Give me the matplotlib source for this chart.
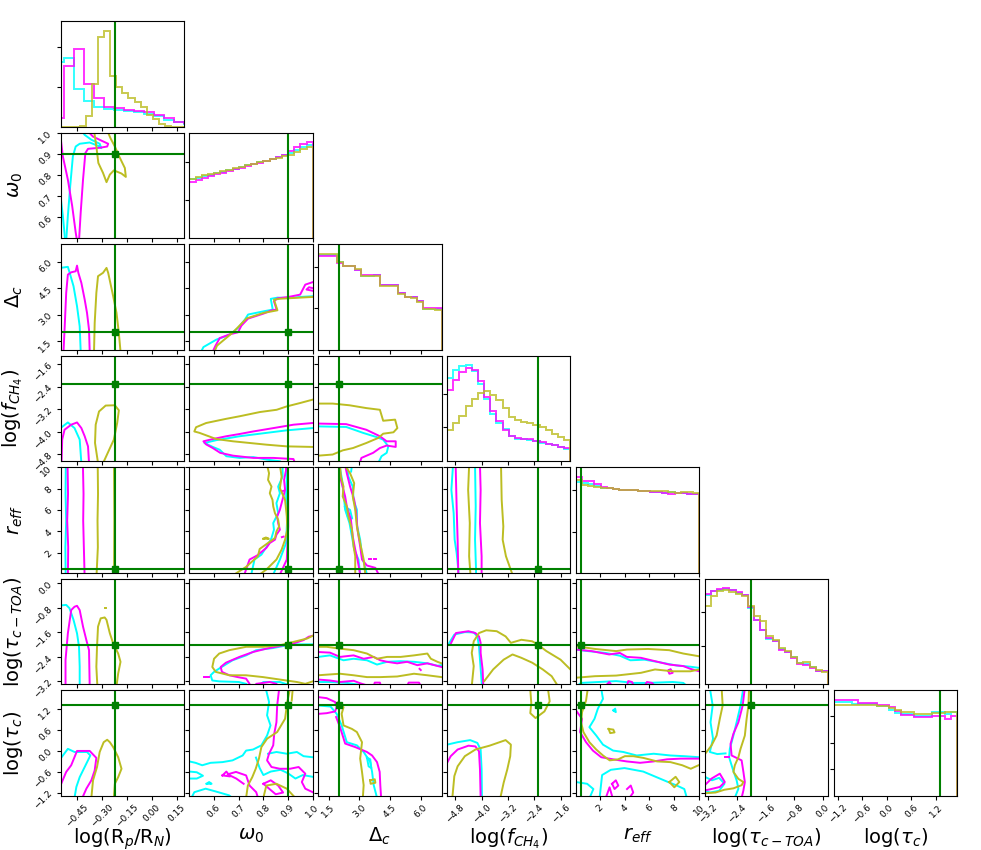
import numpy as np
import matplotlib
matplotlib.use("Agg")
import matplotlib.pyplot as plt

# parameters: label, range, ticks, true value
labels = [r"log(R$_p$/R$_N$)", r"$\omega_0$", r"$\Delta_c$", r"log($f_{CH_4}$)",
          r"$r_{eff}$", r"log($\tau_{c-TOA}$)", r"log($\tau_c$)"]
lims = [(-0.55, 0.19), (0.5, 1.0), (1.0, 7.0), (-5.05, -1.3),
        (0.1, 10.0), (-3.3, 0.15), (-1.3, 1.72)]
ticks = [[-0.45, -0.30, -0.15, 0.00, 0.15],
         [0.6, 0.7, 0.8, 0.9, 1.0],
         [1.5, 3.0, 4.5, 6.0],
         [-4.8, -4.0, -3.2, -2.4, -1.6],
         [2, 4, 6, 8, 10],
         [-3.2, -2.4, -1.6, -0.8, 0.0],
         [-1.2, -0.6, 0.0, 0.6, 1.2]]
truths = [-0.225, 0.9, 2.0, -2.3, 0.5, -2.0, 1.3]

colors = {"c": "#00ffff", "m": "#ff00ff", "o": "#bcbd22"}

# ---- 1D marginals (heights per bin) ----
rp_edges_mc = [-0.59, -0.53, -0.47, -0.41, -0.35, -0.29, -0.23, -0.17, -0.11, -0.05,
               0.01, 0.07, 0.13, 0.19, 0.25]
rp_m = [0.22, 1.51, 1.94, 1.075, 0.71, 0.49, 0.46, 0.425, 0.40, 0.36, 0.30, 0.22, 0.125, 0.09]
rp_c = [1.61, 1.72, 0.94, 0.65, 0.49, 0.45, 0.41, 0.38, 0.36, 0.31, 0.26, 0.175, 0.11, 0.075]
rp_edges_o = [-0.55, -0.436, -0.40, -0.363, -0.326, -0.29, -0.253, -0.216, -0.18, -0.143,
              -0.106, -0.07, -0.033, 0.004, 0.04, 0.077, 0.114, 0.15, 0.19]
rp_o = [0.0, 0.02, 0.275, 1.075, 2.24, 2.41, 1.26, 0.99, 0.84, 0.72, 0.62, 0.49, 0.30,
        0.19, 0.075, 0.025, 0.0, 0.0]

w0_m = [1.48, 1.54, 1.59, 1.64, 1.69, 1.73, 1.77, 1.82, 1.86, 1.90, 1.95, 1.99, 2.04,
        2.09, 2.15, 2.21, 2.30, 2.40, 2.48, 2.55]
w0_c = [1.55, 1.60, 1.64, 1.68, 1.72, 1.76, 1.80, 1.84, 1.88, 1.92, 1.96, 2.00, 2.05,
        2.10, 2.15, 2.20, 2.26, 2.33, 2.40, 2.47]
w0_o = [1.57, 1.62, 1.66, 1.70, 1.73, 1.77, 1.81, 1.85, 1.89, 1.92, 1.96, 2.00, 2.04,
        2.08, 2.12, 2.16, 2.21, 2.28, 2.35, 2.42]

dc_m = [2.28, 2.28, 2.28, 2.10, 2.03, 2.03, 1.94, 1.80, 1.80, 1.80, 1.58, 1.58, 1.58,
        1.37, 1.28, 1.28, 1.18, 1.00, 1.00, 1.00]
dc_c = [2.29, 2.29, 2.29, 2.12, 2.04, 2.04, 1.93, 1.78, 1.78, 1.80, 1.56, 1.56, 1.56,
        1.38, 1.28, 1.28, 1.19, 0.99, 0.99, 0.98]
dc_o = [2.32, 2.33, 2.31, 2.13, 2.03, 2.02, 1.95, 1.79, 1.79, 1.79, 1.54, 1.54, 1.55,
        1.36, 1.27, 1.26, 1.16, 0.98, 0.98, 0.97]

ch4_m = [2.10, 2.39, 2.64, 2.76, 2.69, 2.36, 1.90, 1.48, 1.19, 0.92, 0.76, 0.70, 0.67,
         0.65, 0.61, 0.57, 0.52, 0.47, 0.43, 0.39]
ch4_c = [2.46, 2.71, 2.82, 2.84, 2.66, 2.29, 1.84, 1.41, 1.12, 0.94, 0.74, 0.67, 0.65,
         0.63, 0.60, 0.55, 0.51, 0.47, 0.43, 0.35]
ch4_o = [0.92, 1.12, 1.35, 1.63, 1.84, 2.02, 2.07, 1.97, 1.80, 1.58, 1.31, 1.22, 1.16,
         1.12, 1.08, 1.02, 0.92, 0.82, 0.73, 0.63]

reff_m = [2.32, 2.23, 2.23, 2.15, 2.08, 2.05, 2.03, 2.02, 2.00, 2.00, 1.99, 1.98, 1.96,
          1.96, 1.93, 1.92, 1.94, 1.93, 1.92, 1.91]
reff_c = [2.20, 2.19, 2.16, 2.11, 2.07, 2.05, 2.03, 2.02, 2.01, 2.00, 1.99, 1.98, 1.97,
          1.96, 1.94, 1.95, 1.93, 1.93, 1.92, 1.92]
reff_o = [2.26, 2.12, 2.10, 2.08, 2.06, 2.05, 2.04, 2.02, 2.01, 2.00, 1.99, 1.99, 1.98,
          1.99, 1.98, 1.96, 1.94, 1.96, 1.95, 1.93]

toa_m = [2.73, 2.83, 2.88, 2.90, 2.85, 2.77, 2.70, 2.33, 1.95, 1.65, 1.40, 1.30, 1.05,
         0.97, 0.80, 0.63, 0.60, 0.50, 0.40, 0.40]
toa_c = [2.70, 2.80, 2.86, 2.88, 2.84, 2.76, 2.69, 2.30, 1.93, 1.63, 1.38, 1.30, 1.06,
         0.98, 0.82, 0.65, 0.62, 0.52, 0.42, 0.41]
toa_o = [2.37, 2.65, 2.83, 2.85, 2.79, 2.73, 2.67, 2.37, 2.05, 1.90, 1.47, 1.35, 1.10,
         1.00, 0.83, 0.65, 0.67, 0.53, 0.43, 0.37]

tauc_m = [3.60, 3.60, 3.60, 3.60, 3.50, 3.50, 3.50, 3.44, 3.44, 3.35, 3.19, 3.06, 3.06,
          2.96, 2.96, 2.96, 3.00, 3.00, 2.90, 3.00]
tauc_c = [3.53, 3.53, 3.53, 3.45, 3.45, 3.45, 3.45, 3.38, 3.38, 3.25, 3.13, 3.10, 3.10,
          3.03, 3.03, 3.03, 3.15, 3.15, 3.10, 3.15]
tauc_o = [3.44, 3.44, 3.44, 3.44, 3.44, 3.44, 3.44, 3.40, 3.40, 3.31, 3.23, 3.15, 3.15,
          3.10, 3.10, 3.10, 3.13, 3.13, 3.15, 3.15]

diag_top = [2.65, 2.79, 2.56, 3.12, 2.56, 3.18, 3.975]
diag_yticks = [[1, 2], [1, 2], [1, 2], [1, 2], [1, 2], [1.17, 2.17], [1, 2, 3]]

# ---- 2D credible contours (traced outlines, data units) ----
c_w0_rp = {
    "c": [[(-0.55, 0.699), (-0.536, 0.605), (-0.522, 0.488)],
          [(-0.516, 0.488), (-0.506, 0.605), (-0.492, 0.746), (-0.476, 0.887), (-0.459, 0.934),
           (-0.435, 0.947), (-0.375, 0.953), (-0.315, 0.934), (-0.305, 0.926), (-0.315, 0.947),
           (-0.365, 0.966), (-0.405, 0.989), (-0.425, 1.01)]],
    "m": [[(-0.55, 0.98), (-0.536, 0.887), (-0.506, 0.777), (-0.48, 0.652), (-0.459, 0.527),
           (-0.451, 0.488), (-0.439, 0.488), (-0.429, 0.621), (-0.415, 0.777), (-0.401, 0.903),
           (-0.385, 0.923), (-0.315, 0.928), (-0.27, 0.934), (-0.264, 0.947), (-0.305, 0.962),
           (-0.355, 0.981), (-0.391, 1.01)]],
    "o": [[(-0.349, 1.01), (-0.335, 0.934), (-0.323, 0.856), (-0.295, 0.809), (-0.274, 0.765),
           (-0.254, 0.801), (-0.23, 0.821), (-0.184, 0.806), (-0.158, 0.79), (-0.164, 0.832),
           (-0.198, 0.887), (-0.224, 0.934), (-0.25, 0.973), (-0.27, 1.01)]],
}
c_dc_rp = {
    "c": [[(-0.55, 5.65), (-0.506, 5.71), (-0.496, 5.40), (-0.472, 4.61), (-0.451, 3.47),
           (-0.435, 2.33), (-0.429, 0.9)]],
    "m": [[(-0.532, 0.9), (-0.524, 2.52), (-0.516, 4.23), (-0.506, 5.27), (-0.486, 5.40),
           (-0.459, 5.46), (-0.451, 5.78), (-0.443, 5.37), (-0.425, 4.80), (-0.405, 3.85),
           (-0.391, 3.09), (-0.379, 2.14), (-0.375, 0.9)]],
    "o": [[(-0.349, 0.9), (-0.345, 2.52), (-0.335, 4.23), (-0.325, 5.18), (-0.295, 5.37),
           (-0.274, 5.65), (-0.264, 5.37), (-0.234, 4.04), (-0.214, 3.09), (-0.2, 1.95),
           (-0.19, 0.9)]],
}
c_dc_w0 = {
    "c": [[(0.548, 0.9), (0.557, 1.15), (0.609, 1.57), (0.663, 1.85), (0.697, 2.23), (0.725, 2.71),
           (0.738, 3.0), (0.800, 3.18), (0.838, 3.28), (0.830, 3.89), (0.857, 3.96), (0.909, 3.94),
           (0.949, 4.0), (1.0, 4.04)]],
    "m": [[(0.595, 0.9), (0.606, 1.23), (0.623, 1.66), (0.663, 1.87), (0.697, 1.99), (0.711, 2.37),
           (0.738, 2.77), (0.800, 3.05), (0.834, 3.24), (0.854, 3.28), (0.843, 3.75), (0.857, 3.92),
           (0.902, 4.0), (0.949, 4.13), (0.970, 4.70), (1.0, 4.84)],
          [(1.0, 4.35), (0.975, 4.42), (0.985, 4.55), (1.0, 4.5)]],
    "o": [[(0.602, 0.9), (0.612, 1.23), (0.677, 1.99), (0.707, 2.42), (0.732, 2.78), (0.800, 3.09),
           (0.857, 3.24), (0.843, 3.85), (0.870, 3.90), (0.922, 3.94), (1.0, 4.0)]],
}
c_ch4_rp = {
    "c": [[(-0.55, -3.87), (-0.506, -3.67), (-0.466, -3.87), (-0.435, -4.28), (-0.425, -5.11)]],
    "m": [[(-0.544, -5.11), (-0.540, -4.28), (-0.526, -3.93), (-0.486, -3.75), (-0.451, -3.67),
           (-0.425, -3.87), (-0.405, -4.16), (-0.385, -4.52), (-0.379, -5.11)]],
    "o": [[(-0.325, -5.11), (-0.343, -4.40), (-0.339, -3.75), (-0.319, -3.28), (-0.279, -3.07),
           (-0.224, -3.06), (-0.200, -3.24), (-0.210, -3.69), (-0.230, -4.28), (-0.258, -4.64),
           (-0.285, -4.99), (-0.295, -5.11)]],
}
c_ch4_w0 = {
    "c": [[(1.0, -3.87), (0.895, -3.95), (0.786, -4.07), (0.704, -4.16), (0.609, -4.30),
           (0.561, -4.40), (0.595, -4.54), (0.623, -4.64), (0.650, -4.87), (0.704, -4.93),
           (0.759, -4.90), (0.813, -4.99), (0.868, -5.05), (0.875, -5.11)]],
    "m": [[(1.0, -3.69), (0.922, -3.75), (0.841, -3.87), (0.759, -3.99), (0.704, -4.08),
           (0.650, -4.16), (0.595, -4.26), (0.557, -4.34), (0.568, -4.45), (0.595, -4.58),
           (0.625, -4.75), (0.677, -4.85), (0.759, -4.93), (0.841, -4.93), (0.922, -4.97),
           (0.928, -5.11)]],
    "o": [[(1.0, -2.86), (0.949, -2.98), (0.895, -3.10), (0.854, -3.22), (0.786, -3.30),
           (0.704, -3.45), (0.650, -3.54), (0.568, -3.69), (0.527, -3.84), (0.520, -3.99),
           (0.541, -4.04), (0.609, -4.26), (0.677, -4.34), (0.745, -4.40), (0.813, -4.46),
           (0.895, -4.52), (1.0, -4.54)]],
}
c_ch4_dc = {
    "c": [[(1.0, -3.81), (2.36, -3.83), (3.18, -4.04), (3.84, -4.19), (4.16, -4.28), (4.41, -4.52),
           (4.33, -4.75), (4.08, -4.87), (3.92, -5.11)]],
    "m": [[(1.0, -3.71), (2.36, -3.73), (3.34, -3.93), (4.0, -4.16), (4.33, -4.34), (4.77, -4.34),
           (4.77, -4.54), (4.33, -4.49), (4.0, -4.58), (3.67, -4.75), (3.10, -4.93), (3.02, -5.11)]],
    "o": [[(1.0, -3.0), (1.70, -3.0), (2.52, -3.06), (3.34, -3.16), (4.0, -3.22), (4.16, -3.61),
           (4.74, -3.57), (4.85, -3.87), (4.66, -4.02), (4.16, -4.07), (3.92, -4.22), (3.34, -4.40),
           (2.69, -4.58), (2.20, -4.66), (1.70, -4.81), (1.0, -4.85)]],
}
c_reff_rp = {
    "c": [[(-0.518, 10.5), (-0.520, 7.5), (-0.516, 5.0), (-0.521, 2.5), (-0.519, -0.5)]],
    "m": [[(-0.508, 10.5), (-0.505, 7.5), (-0.510, 5.0), (-0.504, 2.5), (-0.506, -0.5),
           (-0.405, -0.5), (-0.410, 2.5), (-0.414, 5.0), (-0.412, 7.5), (-0.416, 10.5)]],
    "o": [[(-0.327, 10.5), (-0.325, 7.5), (-0.328, 5.0), (-0.326, 2.5), (-0.335, -0.5),
           (-0.229, -0.5), (-0.227, 5.0), (-0.229, 10.5)]],
}
c_reff_w0 = {
    "c": [[(0.878, 10.2), (0.878, 9.13), (0.860, 8.19), (0.867, 7.57), (0.853, 6.64), (0.860, 5.70),
           (0.840, 4.77), (0.843, 4.15), (0.833, 3.37), (0.819, 2.75), (0.792, 1.81), (0.764, 1.35),
           (0.751, -0.05)],
          [(0.840, -0.05), (0.867, 1.35), (0.892, 2.90), (0.897, 5.39), (0.892, 6.95), (0.897, 10.2)]],
    "m": [[(0.892, 10.2), (0.892, 9.75), (0.884, 8.82), (0.888, 7.88), (0.881, 7.26), (0.874, 6.64),
           (0.867, 6.02), (0.856, 5.39), (0.860, 4.77), (0.867, 4.15), (0.853, 3.68), (0.847, 3.21),
           (0.826, 2.90), (0.812, 2.44), (0.774, 1.72), (0.744, 1.35), (0.723, -0.05)],
          [(0.867, -0.05), (0.895, 1.35), (0.901, 4.46), (0.900, 10.2)],
          [(0.875, 3.45), (0.882, 3.5)], [(0.875, 7.75), (0.882, 7.8)]],
    "o": [[(0.815, 10.2), (0.823, 9.44), (0.819, 8.82), (0.833, 8.19), (0.826, 7.57), (0.837, 6.95),
           (0.840, 6.33), (0.847, 5.70), (0.860, 5.08), (0.864, 4.46), (0.853, 3.99), (0.847, 3.37),
           (0.815, 2.84), (0.785, 2.34), (0.778, 1.66), (0.730, 0.66), (0.682, -0.05)],
          [(0.785, -0.05), (0.812, 0.41), (0.853, 1.35), (0.874, 2.28), (0.888, 3.21), (0.897, 4.15),
           (0.895, 5.39), (0.888, 6.95), (0.867, 8.04), (0.874, 9.13), (0.867, 10.2)],
          [(0.80, 3.3), (0.81, 3.42), (0.822, 3.3), (0.80, 3.3)]],
}
c_reff_dc = {
    "c": [[(2.03, 10.2), (2.16, 8.82), (2.23, 7.57), (2.31, 6.02), (2.52, 4.77), (2.64, 3.52),
           (2.75, 2.28), (2.96, 1.35), (3.04, -0.05)],
          [(3.37, -0.05), (3.29, 0.57), (3.13, 1.66), (3.04, 3.21), (2.88, 4.61), (2.88, 6.02),
           (2.72, 6.95), (2.68, 8.19), (2.47, 9.13), (2.39, 10.2)],
          [(2.30, 6.30), (2.55, 6.00), (2.65, 5.20), (2.45, 5.30), (2.30, 6.30)],
          [(2.60, 9.6), (2.62, 9.9)]],
    "m": [[(2.03, 10.2), (2.10, 8.82), (2.31, 7.26), (2.39, 6.33), (2.59, 5.08), (2.68, 3.52),
           (2.80, 2.28), (2.91, 1.35), (3.04, -0.05)],
          [(3.94, -0.05), (3.78, 0.57), (3.37, 0.79), (3.13, 1.35), (3.04, 2.59), (2.91, 4.15),
           (2.85, 5.70), (2.75, 6.95), (2.55, 8.19), (2.39, 9.44), (2.31, 10.2)],
          [(3.45, 1.42), (3.55, 1.42)], [(3.70, 1.42), (3.80, 1.42)]],
    "o": [[(2.06, 10.2), (2.10, 9.13), (2.23, 8.19), (2.19, 7.26), (2.39, 6.33), (2.47, 5.39),
           (2.64, 4.15), (2.72, 2.59), (2.80, 1.66), (2.80, -0.05)],
          [(3.29, -0.05), (3.21, 1.35), (3.04, 2.90), (2.88, 4.46), (2.80, 6.02), (2.68, 7.26),
           (2.75, 8.51), (2.55, 9.44), (2.39, 9.91), (2.23, 10.2)]],
}
c_reff_ch4 = {
    "c": [[(-4.87, 10.2), (-4.92, 7.88), (-4.85, 5.70), (-4.82, 3.21), (-4.76, 1.97), (-4.71, 0.41),
           (-4.70, -0.05)],
          [(-4.20, 10.2), (-4.18, 6.33), (-4.20, 3.21), (-4.17, 0.41), (-4.17, -0.05)]],
    "m": [[(-4.79, 10.2), (-4.76, 6.33), (-4.73, 3.21), (-4.71, 0.10), (-4.71, -0.05)],
          [(-4.05, 10.2), (-4.03, 7.88), (-4.05, 4.77), (-4.00, 1.66), (-4.00, -0.05)]],
    "o": [[(-4.38, 10.2), (-4.41, 7.88), (-4.36, 4.77), (-4.38, 1.66), (-4.34, -0.05)],
          [(-3.41, 10.2), (-3.39, 6.95), (-3.34, 4.46), (-3.36, 3.21), (-3.26, 1.66), (-3.08, 0.10),
           (-3.06, -0.05)]],
}
c_toa_rp = {
    "c": [[(-0.55, -0.72), (-0.516, -0.70), (-0.496, -0.81), (-0.472, -1.19), (-0.451, -1.63),
           (-0.439, -2.07), (-0.435, -2.72), (-0.435, -3.35)]],
    "m": [[(-0.520, -3.35), (-0.520, -2.50), (-0.506, -1.63), (-0.486, -0.87), (-0.466, -0.76),
           (-0.451, -0.73), (-0.435, -0.87), (-0.415, -1.41), (-0.395, -1.85), (-0.379, -2.18),
           (-0.375, -3.35)]],
    "o": [[(-0.329, -3.35), (-0.335, -2.72), (-0.331, -2.07), (-0.325, -1.41), (-0.309, -1.14),
           (-0.285, -1.11), (-0.274, -1.19), (-0.254, -1.63), (-0.234, -1.96), (-0.204, -2.29),
           (-0.190, -2.56), (-0.204, -2.94), (-0.214, -3.35)],
          [(-0.283, -0.79), (-0.276, -0.79)]],
}
c_toa_w0 = {
    "c": [[(1.0, -1.99), (0.936, -1.99), (0.895, -2.02), (0.840, -2.11), (0.771, -2.18), (0.730, -2.35),
           (0.675, -2.51), (0.621, -2.78), (0.600, -2.89), (0.586, -3.0), (0.593, -3.17),
           (0.621, -3.20), (0.70, -3.22), (0.73, -3.28), (0.74, -3.35)],
          [(0.78, -3.35), (0.80, -3.22), (0.867, -3.22), (0.908, -3.33)]],
    "m": [[(1.0, -1.71), (0.984, -1.74), (0.963, -1.85), (0.922, -1.96), (0.881, -2.02), (0.812, -2.13),
           (0.758, -2.24), (0.703, -2.40), (0.648, -2.59), (0.627, -2.73), (0.632, -2.89),
           (0.662, -3.0), (0.696, -3.06), (0.730, -3.11), (0.744, -3.28), (0.744, -3.35)],
          [(0.771, -3.35), (0.771, -3.28), (0.826, -3.22), (0.853, -3.28), (0.86, -3.35)],
          [(0.559, -3.06), (0.579, -3.06)]],
    "o": [[(1.0, -1.71), (0.977, -1.80), (0.922, -1.91), (0.867, -2.02), (0.799, -2.07), (0.730, -2.07),
           (0.662, -2.18), (0.621, -2.29), (0.600, -2.46), (0.593, -2.73), (0.607, -2.89),
           (0.662, -3.0), (0.730, -3.0), (0.799, -3.06), (0.867, -3.14), (0.936, -3.22),
           (0.970, -3.28), (1.0, -3.2)]],
}
c_toa_dc = {
    "c": [[(1.0, -2.40), (1.57, -2.35), (2.23, -2.51), (2.72, -2.46), (3.37, -2.51), (3.86, -2.65),
           (4.35, -2.56), (5.01, -2.54), (5.66, -2.56), (6.31, -2.61), (6.80, -2.69), (7.0, -2.67)],
          [(1.0, -3.22), (1.57, -3.22), (2.39, -3.25), (3.21, -3.33)]],
    "m": [[(1.0, -2.24), (1.57, -2.26), (2.06, -2.40), (2.72, -2.35), (3.21, -2.46), (3.70, -2.40),
           (4.02, -2.51), (4.35, -2.56), (4.84, -2.61), (5.33, -2.56), (5.82, -2.67), (6.31, -2.61),
           (7.0, -2.73)],
          [(1.0, -3.14), (1.57, -3.17), (2.06, -3.22), (2.72, -3.18), (3.04, -3.26), (3.37, -3.33)],
          [(3.70, -3.35), (3.75, -3.24), (4.0, -3.24), (4.05, -3.35)],
          [(5.33, -3.35), (5.40, -3.24), (5.90, -3.24), (6.0, -3.35)],
          [(5.93, -2.79), (5.99, -2.83)]],
    "o": [[(1.0, -2.07), (1.41, -2.07), (2.06, -2.13), (2.72, -2.18), (3.37, -2.29), (3.86, -2.46),
           (4.35, -2.40), (5.01, -2.40), (5.66, -2.35), (6.31, -2.29), (6.48, -2.46), (6.80, -2.56),
           (7.0, -2.61)],
          [(1.0, -3.0), (1.41, -2.98), (2.06, -2.95), (2.72, -3.0), (3.37, -3.06), (4.02, -3.06),
           (4.84, -3.04), (5.66, -2.95), (6.31, -3.0), (7.0, -3.06)]],
}
c_toa_ch4 = {
    "c": [[(-5.0, -1.97), (-4.83, -1.67), (-4.51, -1.59), (-4.24, -1.60), (-4.13, -1.73), (-4.08, -2.05),
           (-4.05, -2.49), (-3.99, -3.35)]],
    "m": [[(-4.94, -1.97), (-4.78, -1.62), (-4.40, -1.56), (-4.19, -1.62), (-4.08, -1.73), (-4.03, -1.94),
           (-4.03, -2.27), (-3.97, -2.81), (-3.95, -3.35)]],
    "o": [[(-4.30, -3.35), (-4.24, -2.70), (-4.30, -2.27), (-4.24, -1.89), (-4.08, -1.62), (-3.86, -1.53),
           (-3.54, -1.56), (-3.27, -1.73), (-3.11, -1.94), (-2.79, -1.84), (-2.46, -1.89), (-2.30, -1.99),
           (-2.03, -2.21), (-1.60, -2.49), (-1.30, -2.81)],
          [(-3.92, -3.19), (-3.65, -2.81), (-3.33, -2.49), (-3.06, -2.32), (-2.79, -2.43), (-2.46, -2.59),
           (-2.14, -2.81), (-1.87, -3.03), (-1.71, -3.30)]],
}
c_toa_reff = {
    "c": [[(0.1, -2.16), (1.06, -2.21), (2.48, -2.27), (3.62, -2.36), (4.47, -2.51), (5.60, -2.49),
           (6.74, -2.57), (8.16, -2.68), (9.29, -2.72), (10.0, -2.76)],
          [(0.2, -3.35), (0.5, -3.25), (1.92, -3.22), (3.33, -3.19), (4.75, -3.25), (5.89, -3.25),
           (7.87, -3.22), (8.72, -3.25), (9.0, -3.35)]],
    "m": [[(0.1, -2.16), (1.35, -2.21), (2.77, -2.32), (3.62, -2.27), (4.19, -2.40), (5.32, -2.43),
           (6.45, -2.54), (7.59, -2.65), (8.72, -2.70), (9.29, -2.79), (10.0, -2.87)],
          [(7.5, -2.85), (7.7, -2.80), (7.87, -2.92), (7.6, -2.95), (7.5, -2.85)],
          [(2.48, -3.35), (2.77, -3.22), (3.0, -3.35)],
          [(4.19, -3.35), (4.3, -3.19), (4.6, -3.22), (4.75, -3.35)],
          [(5.6, -3.35), (5.8, -3.22), (6.2, -3.25), (6.45, -3.35)]],
    "o": [[(0.1, -2.05), (1.63, -2.14), (3.33, -2.21), (4.19, -2.16), (5.89, -2.14), (7.59, -2.18),
           (8.72, -2.29), (10.0, -2.38)],
          [(0.1, -3.08), (1.63, -3.03), (3.33, -3.01), (5.32, -2.92), (6.45, -2.81), (7.87, -2.87),
           (9.29, -2.87), (10.0, -2.81)]],
}
c_tauc_rp = {
    "c": [[(-0.55, -0.23), (-0.506, 0.05), (-0.466, -0.04), (-0.391, -0.04), (-0.371, -0.14),
           (-0.405, -0.47), (-0.435, -0.76), (-0.455, -1.04), (-0.466, -1.35)]],
    "m": [[(-0.546, -0.95), (-0.516, -0.61), (-0.486, -0.42), (-0.451, -0.01), (-0.375, -0.01),
           (-0.335, -0.21), (-0.345, -0.57), (-0.365, -0.85), (-0.395, -1.09), (-0.419, -1.35)]],
    "o": [[(-0.365, -1.35), (-0.355, -0.85), (-0.331, -0.47), (-0.315, -0.04), (-0.291, 0.24),
           (-0.270, 0.31), (-0.254, 0.24), (-0.234, 0.10), (-0.204, -0.19), (-0.184, -0.52),
           (-0.204, -0.76), (-0.224, -0.95), (-0.230, -1.35)]],
}
c_tauc_w0 = {
    "c": [[(0.81, 1.77), (0.823, 1.39), (0.815, 1.01), (0.829, 0.72), (0.815, 0.43), (0.792, 0.15),
           (0.758, 0.03), (0.730, 0.0), (0.716, -0.14), (0.675, -0.28), (0.634, -0.33), (0.586, -0.35),
           (0.552, -0.42), (0.525, -0.35), (0.5, -0.31)],
          [(0.819, -0.09), (0.853, -0.04), (0.895, -0.09), (0.936, -0.04), (0.963, -0.16), (1.0, -0.19)],
          [(0.5, -0.60), (0.53, -0.62), (0.555, -0.72), (0.53, -0.80), (0.5, -0.80)],
          [(0.51, -1.33), (0.52, -1.19), (0.566, -1.09), (0.607, -1.17), (0.661, -1.28), (0.67, -1.33)],
          [(0.77, -0.20), (0.785, -0.50), (0.80, -0.70), (0.83, -0.60), (0.87, -0.55), (0.90, -0.65),
           (0.93, -0.80), (0.96, -0.70), (1.0, -0.75)],
          [(0.57, -0.95), (0.58, -0.90), (0.59, -0.95), (0.57, -0.95)]],
    "m": [[(0.864, 1.77), (0.856, 1.29), (0.853, 0.81), (0.844, 0.48), (0.840, 0.15), (0.823, -0.09),
           (0.815, -0.28), (0.833, -0.47), (0.867, -0.52), (0.908, -0.52), (0.943, -0.47),
           (0.970, -0.66), (0.956, -0.90), (0.970, -1.09), (1.0, -1.19)],
          [(0.778, -1.35), (0.771, -1.19), (0.744, -1.0), (0.730, -0.71), (0.689, -0.61),
           (0.655, -0.68), (0.69, -0.80), (0.72, -0.95)],
          [(0.634, -0.71), (0.65, -0.60), (0.665, -0.74), (0.634, -0.71)],
          [(0.80, -0.95), (0.83, -0.85), (0.86, -1.0), (0.88, -1.2), (0.85, -1.25), (0.80, -0.95)]],
    "o": [[(0.908, 1.77), (0.897, 1.39), (0.888, 0.91), (0.856, 0.53), (0.815, 0.34), (0.792, 0.10),
           (0.782, -0.23), (0.769, -0.52), (0.755, -0.76), (0.737, -1.0), (0.730, -1.35)],
          [(0.919, 1.77), (0.915, 1.43)],
          [(0.80, -1.35), (0.812, -1.0), (0.853, -0.95), (0.895, -1.09), (0.929, -1.35)]],
}
c_tauc_dc = {
    "c": [[(1.0, 1.29), (1.6, 1.26), (1.9, 1.05), (2.14, 0.72), (2.39, 0.24), (2.88, 0.15),
           (3.21, -0.04), (3.53, -0.33), (3.62, -0.61), (3.70, -0.99), (3.86, -1.35)],
          [(3.37, -0.20), (3.53, -0.25), (3.58, -0.50), (3.45, -0.45), (3.37, -0.20)]],
    "m": [[(1.0, 1.53), (1.41, 1.50), (1.82, 1.39), (1.90, 1.25), (1.82, 1.12), (1.41, 1.07), (1.0, 1.05)],
          [(1.87, 0.96), (2.06, 0.67), (2.31, 0.20), (2.80, 0.10), (3.37, -0.04), (3.62, -0.14),
           (3.86, -0.33), (3.99, -0.61), (4.02, -0.99), (4.06, -1.35)]],
    "o": [[(1.98, 1.39), (2.23, 1.24), (2.14, 1.05), (2.23, 0.72), (2.64, 0.62), (2.88, 0.53),
           (3.13, 0.24), (3.04, -0.23), (3.13, -0.61), (3.21, -0.99), (3.17, -1.35)],
          [(3.53, -0.85), (3.75, -0.82), (3.78, -0.92), (3.55, -0.95), (3.53, -0.85)]],
}
c_tauc_ch4 = {
    "c": [[(-5.05, 0.17), (-4.73, 0.24), (-4.35, 0.30), (-4.13, 0.22), (-4.03, 0.03), (-4.00, -0.54),
           (-3.99, -1.35)]],
    "m": [[(-5.05, -0.35), (-4.94, -0.16), (-4.73, 0.03), (-4.40, 0.14), (-4.19, 0.12), (-4.08, -0.02),
           (-4.05, -0.54), (-4.03, -1.35)]],
    "o": [[(-4.89, -1.35), (-4.83, -0.73), (-4.73, -0.45), (-4.51, -0.16), (-4.19, 0.03), (-3.76, 0.14),
           (-3.27, 0.30), (-3.11, 0.17), (-3.13, -0.16), (-3.22, -0.54), (-3.33, -0.92), (-3.43, -1.35)],
          [(-2.52, 1.75), (-2.49, 1.36), (-2.52, 1.07), (-2.36, 0.93), (-2.09, 1.12), (-1.93, 1.41),
           (-1.98, 1.75)]],
}
c_tauc_reff = {
    "c": [[(2.13, 1.77), (2.27, 1.48), (1.86, 1.20), (1.59, 0.91), (1.18, 0.67), (1.73, 0.43),
           (2.27, 0.17), (3.08, 0.0), (3.90, -0.04), (4.98, -0.14), (6.34, -0.09), (7.69, -0.14),
           (8.78, -0.16), (10.0, -0.19)],
          [(0.1, -0.90), (1.0, -0.95), (1.5, -1.10), (1.2, -1.35)],
          [(2.0, -1.35), (2.2, -0.70), (2.9, -0.55), (4.0, -0.50), (5.5, -0.60), (6.5, -0.75),
           (7.5, -0.90), (8.2, -1.0), (8.8, -1.1), (9.0, -1.35)],
          [(3.1, 1.15), (3.25, 1.2), (3.3, 1.1), (3.1, 1.15)]],
    "m": [[(0.1, 1.15), (0.59, 0.91), (0.43, 0.53), (0.91, 0.24), (1.46, 0.0), (2.13, -0.19),
           (3.08, -0.25), (4.17, -0.31), (5.25, -0.35), (6.34, -0.31), (7.42, -0.25), (8.51, -0.23),
           (10.0, -0.23)],
          [(3.0, -0.95), (3.3, -0.85), (3.5, -1.0), (3.2, -1.1), (3.0, -0.95)],
          [(4.2, -1.1), (4.5, -1.0), (4.7, -1.2), (4.4, -1.35)],
          [(2.5, -1.35), (2.8, -1.05), (3.0, -1.3)]],
    "o": [[(1.05, 1.77), (0.91, 1.43), (0.59, 1.10), (0.51, 0.81), (0.70, 0.53), (1.18, 0.24),
           (1.73, 0.03), (2.27, -0.14), (2.81, -0.28), (3.49, -0.25), (4.03, -0.16), (4.71, -0.16),
           (5.52, -0.21), (6.61, -0.31), (7.69, -0.33), (8.64, -0.42), (9.32, -0.52), (10.0, -0.41)],
          [(2.72, 0.62), (3.10, 0.60), (3.20, 0.52), (2.85, 0.50), (2.72, 0.62)],
          [(7.6, -0.9), (8.1, -0.75), (8.4, -0.9), (8.0, -1.05), (7.6, -0.9)]],
}
c_tauc_toa = {
    "c": [[(-3.16, 1.80), (-3.08, 1.29), (-3.14, 0.81), (-3.07, 0.34), (-3.16, -0.04), (-2.95, -0.10),
           (-2.72, -0.08)],
          [(-2.22, 1.80), (-2.30, 1.29), (-2.41, 0.81), (-2.50, 0.43), (-2.60, 0.05), (-2.62, -0.19),
           (-2.52, -0.52), (-2.41, -0.85), (-2.36, -1.09), (-2.46, -1.35)],
          [(-3.30, -0.75), (-3.10, -0.85), (-2.90, -0.78), (-2.75, -0.95), (-2.90, -1.15),
           (-3.15, -1.20), (-3.30, -1.15)]],
    "m": [[(-2.18, 1.80), (-2.24, 1.29), (-2.36, 0.81), (-2.50, 0.48), (-2.58, 0.19), (-2.55, -0.14),
           (-2.27, -0.28), (-2.22, -0.61), (-2.18, -0.90), (-2.22, -1.14), (-2.27, -1.35)],
          [(-3.30, -0.99), (-3.11, -0.80), (-2.88, -0.66), (-2.74, -0.90), (-2.88, -1.04),
           (-3.16, -1.11), (-3.30, -1.14)],
          [(-2.74, -0.19), (-2.62, -0.19)]],
    "o": [[(-2.83, 1.80), (-2.80, 1.29), (-2.88, 0.91), (-2.97, 0.43), (-3.11, 0.15), (-3.25, -0.04),
           (-3.30, -0.10)],
          [(-2.06, 1.80), (-2.08, 1.29), (-2.13, 0.91), (-2.18, 0.43), (-2.30, 0.05), (-2.36, -0.19),
           (-2.46, -0.42), (-2.50, -0.61), (-2.36, -0.81), (-2.22, -0.90), (-2.27, -0.99),
           (-2.50, -1.08), (-2.75, -1.12), (-3.00, -1.20), (-3.30, -1.22)]],
}

contours = {
    (1, 0): c_w0_rp,
    (2, 0): c_dc_rp, (2, 1): c_dc_w0,
    (3, 0): c_ch4_rp, (3, 1): c_ch4_w0, (3, 2): c_ch4_dc,
    (4, 0): c_reff_rp, (4, 1): c_reff_w0, (4, 2): c_reff_dc, (4, 3): c_reff_ch4,
    (5, 0): c_toa_rp, (5, 1): c_toa_w0, (5, 2): c_toa_dc, (5, 3): c_toa_ch4, (5, 4): c_toa_reff,
    (6, 0): c_tauc_rp, (6, 1): c_tauc_w0, (6, 2): c_tauc_dc, (6, 3): c_tauc_ch4,
    (6, 4): c_tauc_reff, (6, 5): c_tauc_toa,
}

hists = [
    [(rp_edges_mc, rp_c, "c"), (rp_edges_mc, rp_m, "m"), (rp_edges_o, rp_o, "o")],
    [(None, w0_c, "c"), (None, w0_m, "m"), (None, w0_o, "o")],
    [(None, dc_c, "c"), (None, dc_m, "m"), (None, dc_o, "o")],
    [(None, ch4_c, "c"), (None, ch4_m, "m"), (None, ch4_o, "o")],
    [(None, reff_c, "c"), (None, reff_m, "m"), (None, reff_o, "o")],
    [(None, toa_c, "c"), (None, toa_m, "m"), (None, toa_o, "o")],
    [(None, tauc_c, "c"), (None, tauc_m, "m"), (None, tauc_o, "o")],
]

n = len(labels)
fig, axes = plt.subplots(n, n, figsize=(9.81, 8.5), dpi=100)
fig.subplots_adjust(left=0.0617, right=0.9755, bottom=0.0635, top=0.9753,
                    wspace=0.045, hspace=0.057)

truth_col = "green"

for i in range(n):
    for j in range(n):
        ax = axes[i, j]
        if j > i:
            ax.set_visible(False)
            continue

        if i == j:
            for edges, vals, key in hists[i]:
                if edges is None:
                    edges = np.linspace(lims[i][0], lims[i][1], len(vals) + 1)
                ax.stairs(vals, edges, color=colors[key], lw=1.4, alpha=0.8)
            ax.set_ylim(0, diag_top[i])
            ax.set_yticks(diag_yticks[i])
            ax.set_yticklabels([])
            ax.axvline(truths[j], color=truth_col, lw=1.5)
        else:
            for key in ["c", "m", "o"]:
                for line in contours[(i, j)][key]:
                    xs = [p[0] for p in line]
                    ys = [p[1] for p in line]
                    ax.plot(xs, ys, color=colors[key], lw=1.4)
            ax.set_ylim(lims[i])
            ax.set_yticks(ticks[i])
            ax.axvline(truths[j], color=truth_col, lw=1.5)
            ax.axhline(truths[i], color=truth_col, lw=1.5)
            ax.plot(truths[j], truths[i], "s", color=truth_col, ms=5)
            if j == 0:
                ax.set_ylabel(labels[i], fontsize=14)
                ax.yaxis.set_label_coords(-0.29, 0.5)
            else:
                ax.set_yticklabels([])

        ax.set_xlim(lims[j])
        ax.set_xticks(ticks[j])
        if i == n - 1:
            ax.set_xlabel(labels[j], fontsize=14)
            ax.xaxis.set_label_coords(0.5, -0.285)
        else:
            ax.set_xticklabels([])

        ax.tick_params(labelsize=6.5, length=3, width=0.8, pad=2)
        ax.tick_params(axis="x", labelrotation=45)
        ax.tick_params(axis="y", labelrotation=45)

plt.savefig("out.png", dpi=100)
